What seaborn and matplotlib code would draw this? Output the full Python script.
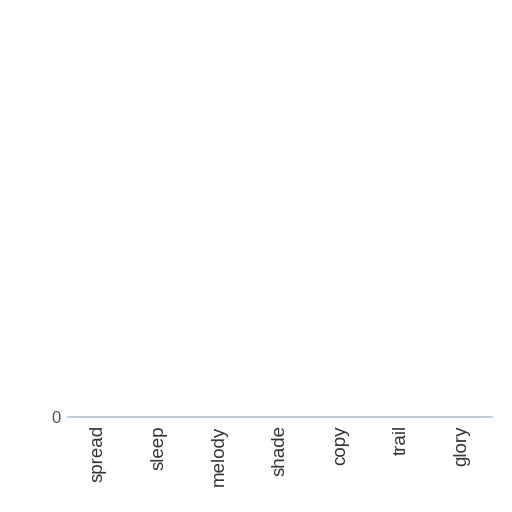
import matplotlib
matplotlib.use("Agg")
import matplotlib.pyplot as plt
import seaborn as sns
import pandas as pd

categories = ["spread", "sleep", "melody", "shade", "copy", "trail", "glory"]
values = [0, 0, 0, 0, 0, 0, 0]

sns.set_theme(style="white")
plt.rcParams["font.family"] = ["Liberation Sans", "DejaVu Sans"]

df = pd.DataFrame({"category": categories, "value": values})

fig = plt.figure(figsize=(5.12, 5.12), dpi=100)
ax = fig.add_axes([68/512, 1 - 417/512, (492-68)/512, (417-10)/512])
sns.barplot(data=df, x="category", y="value", ax=ax, color="#4c72b0")
ax.set_xlim(-0.5, len(categories) - 0.5)
ax.set_ylim(0, 1)
ax.set_yticks([0])
ax.set_yticklabels(["0"])
ax.set_xlabel("")
ax.set_ylabel("")
for s in ["top", "right", "left"]:
    ax.spines[s].set_visible(False)
ax.spines["bottom"].set_color("#b8c4d0")
ax.spines["bottom"].set_linewidth(1.2)
ax.tick_params(axis="x", labelrotation=90, labelsize=13.5, colors="#333333", length=0, pad=6)
ax.tick_params(axis="y", labelsize=12, colors="#555555", length=0, pad=5)
fig.savefig("out.png", dpi=100, facecolor="white")
